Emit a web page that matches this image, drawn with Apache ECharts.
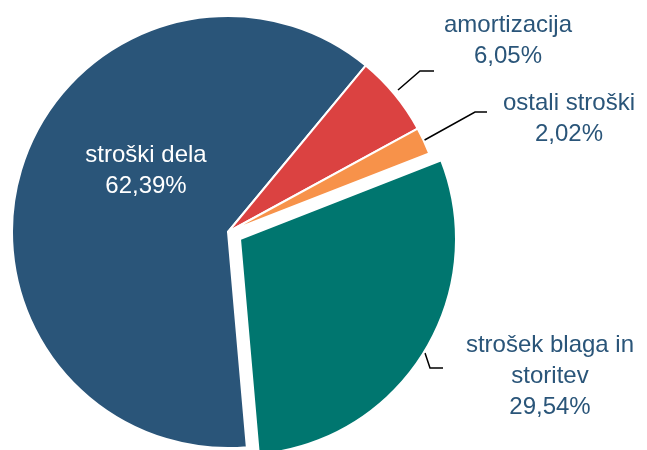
<!DOCTYPE html>
<html>
<head>
<meta charset="utf-8">
<script src="https://cdn.jsdelivr.net/npm/echarts@6/dist/echarts.min.js"></script>
<style>
  html, body { margin: 0; padding: 0; background: #fff; }
  #chart { width: 647px; height: 450px; }
</style>
</head>
<body>
<div id="chart"></div>
<script>
// data
var categories = ['stroški dela', 'amortizacija', 'ostali stroški', 'strošek blaga in storitev'];
var values = [62.39, 6.05, 2.02, 29.54];
var colors = ['#2A5579', '#DB4241', '#F7924A', '#00766F'];
var exploded = [false, false, false, true];

var textColor = '#2A5579';

// where each label sits (center of text block) and its leader line
var labelPos = [
  { x: 146, y: 171, line: null },
  { x: 508, y: 41, line: [[398, 90], [420, 71], [434, 71]] },
  { x: 569, y: 119, line: [[421, 142], [475, 112], [487, 112]] },
  { x: 550, y: 376, line: [[425, 353], [430, 368], [443, 368]] }
];

var myChart = echarts.init(document.getElementById('chart'));

// the pulled-out slice is drawn by a second pie whose centre is shifted
function buildData(forExploded) {
  var out = [];
  for (var i = 0; i < categories.length; i++) {
    var item = {
      name: categories[i],
      value: values[i],
      itemStyle: { color: colors[i] }
    };
    if (exploded[i] !== forExploded) {
      item.itemStyle = { color: 'rgba(0,0,0,0)', borderWidth: 0 };
      item.label = { show: false };
      item.labelLine = { show: false };
    } else if (i === 0) {
      item.label = { position: 'inside', color: '#fff' };
      item.labelLine = { show: false };
    }
    out.push(item);
  }
  return out;
}

function pieSeries(center, forExploded) {
  return {
    type: 'pie',
    center: center,
    radius: [0, 216],
    startAngle: 275,
    clockwise: true,
    silent: true,
    itemStyle: {
      borderColor: '#fff',
      borderWidth: 2
    },
    label: {
      show: true,
      position: 'outside',
      overflow: 'none',
      color: textColor,
      fontFamily: 'Liberation Sans, Arial, sans-serif',
      fontSize: 24,
      lineHeight: 31,
      align: 'center',
      formatter: function (p) {
        var name = p.name.replace(' in ', ' in\n');
        return name + '\n' + p.value.toFixed(2).replace('.', ',') + '%';
      }
    },
    labelLine: {
      show: true,
      lineStyle: { color: '#000', width: 1.5 }
    },
    labelLayout: function (params) {
      var lp = labelPos[params.dataIndex];
      var res = {
        x: lp.x,
        y: lp.y,
        align: 'center',
        verticalAlign: 'middle'
      };
      if (lp.line) {
        res.labelLinePoints = lp.line;
      }
      return res;
    },
    data: buildData(forExploded)
  };
}

var option = {
  animation: false,
  backgroundColor: '#fff',
  series: [
    pieSeries([228, 232], false),
    pieSeries([240, 239], true)
  ]
};

myChart.setOption(option);
</script>
</body>
</html>
